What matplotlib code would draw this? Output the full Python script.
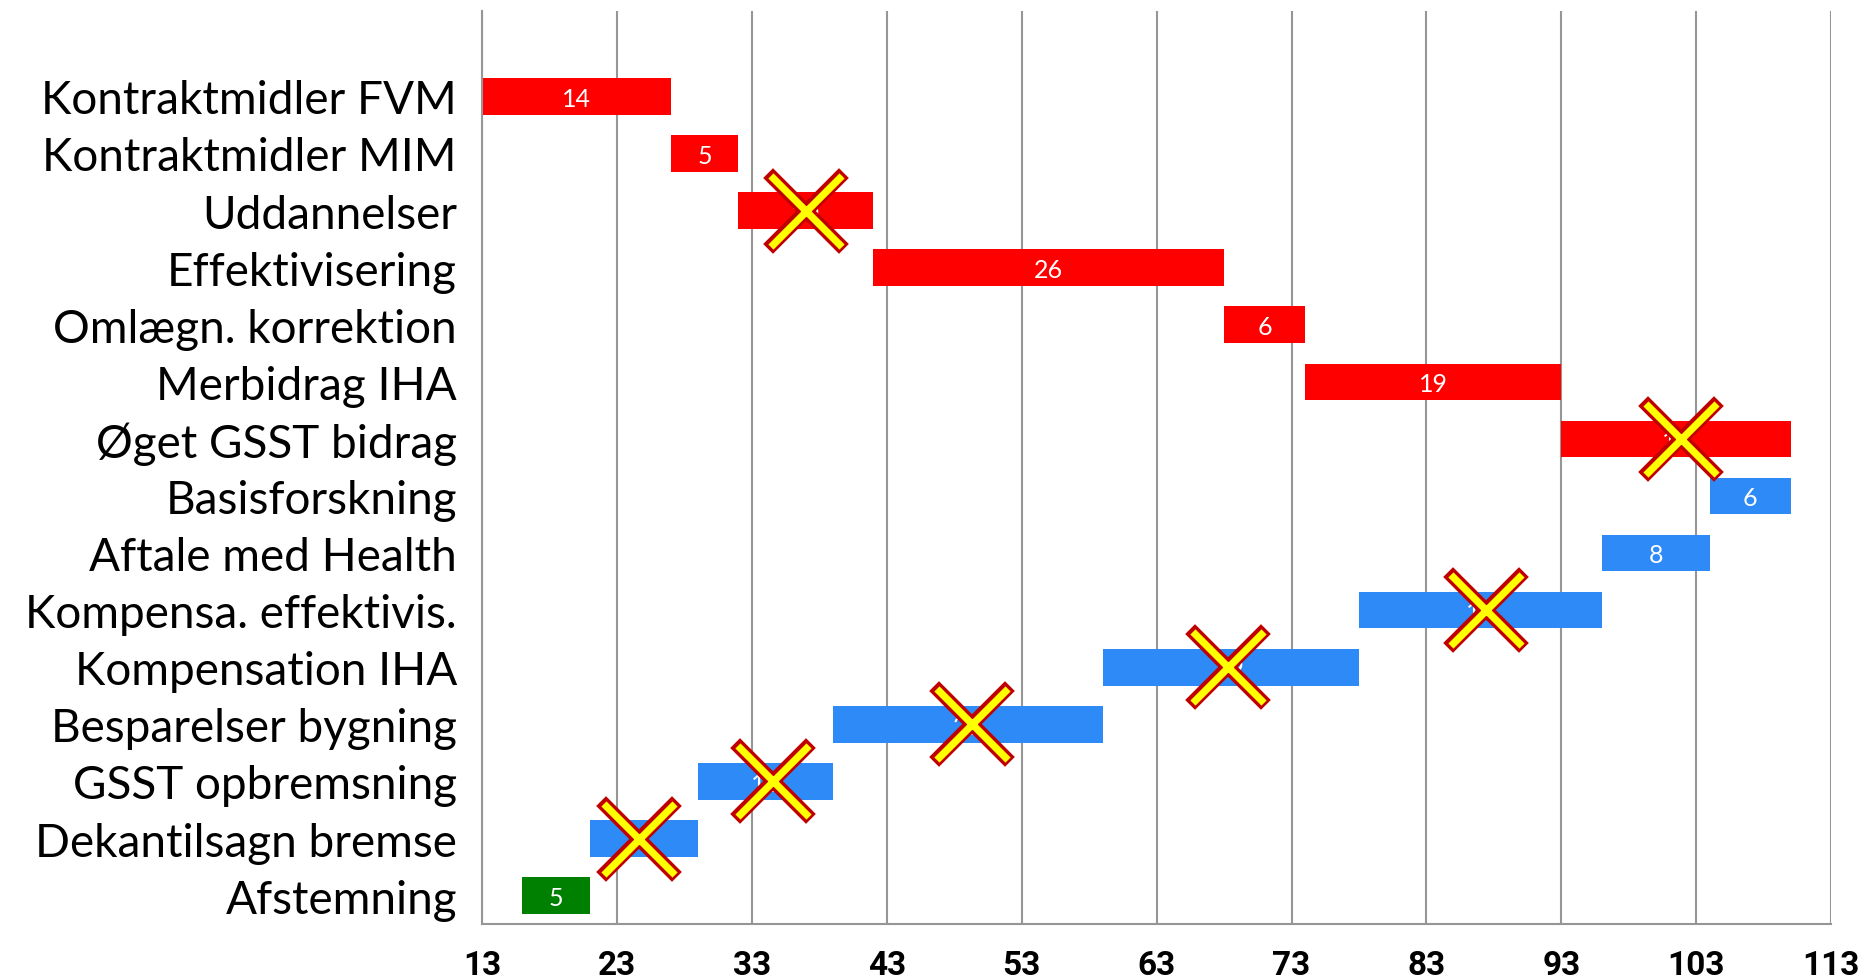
import numpy as np
import matplotlib
matplotlib.use("Agg")
import matplotlib.pyplot as plt
from matplotlib.markers import MarkerStyle

# Data (top to bottom as shown)
categories = ['Kontraktmidler FVM', 'Kontraktmidler MIM', 'Uddannelser', 'Effektivisering',
              'Omlægn. korrektion', 'Merbidrag IHA', 'Øget GSST bidrag', 'Basisforskning',
              'Aftale med Health', 'Kompensa. effektivis.', 'Kompensation IHA',
              'Besparelser bygning', 'GSST opbremsning', 'Dekantilsagn bremse', 'Afstemning']
starts = [13, 27, 32, 42, 68, 74, 93, 104, 96, 78, 59, 39, 29, 21, 16]
values = [14, 5, 10, 26, 6, 19, 17, 6, 8, 18, 19, 20, 10, 8, 5]
groups = ['red'] * 7 + ['blue'] * 7 + ['green']
# x position of the cross drawn over a bar (None = no cross)
cross_x = [None, None, 37, None, None, None, 101.9, None, None, 87.4, 68.3, 49.3, 34.6, 24.6, None]
x_ticks = [13, 23, 33, 43, 53, 63, 73, 83, 93, 103, 113]

palette = {'red': '#FF0000', 'blue': '#2D8AF7', 'green': '#008000'}
label_font = ['Lato', 'DejaVu Sans']

fig = plt.figure(figsize=(18.61, 9.79), dpi=100)
ax = fig.add_axes([0.259, 0.055, 0.725, 0.933])

n = len(categories)
ypos = np.arange(n)[::-1]
colors = [palette[g] for g in groups]

ax.barh(ypos, values, left=starts, height=0.64, color=colors, zorder=2)

# value labels in the bars
for y, s, v in zip(ypos, starts, values):
    ax.text(s + v / 2, y - 0.03, str(v), color='white', ha='center', va='center',
            fontsize=18, family=label_font, zorder=3)

# crossed-out markers
cx = [c for c in cross_x if c is not None]
cy = [y for y, c in zip(ypos, cross_x) if c is not None]
ax.plot(cx, cy, ls='none', marker=MarkerStyle('x', capstyle='projecting'),
        ms=48, mew=10, color='#C00000', zorder=4)
ax.plot(cx, cy, ls='none', marker=MarkerStyle('x', capstyle='projecting'),
        ms=48, mew=5.2, color='#FFFF00', zorder=5)

ax.set_xlim(13, 113)
ax.set_ylim(-0.5, 15.5)
ax.set_xticks(x_ticks)
ax.set_xticklabels([str(t) for t in x_ticks], fontsize=24, fontweight='bold',
                   family=['Roboto', 'DejaVu Sans'])
ax.set_yticks(ypos)
ax.set_yticklabels(categories, fontsize=33, family=label_font)
ax.tick_params(axis='y', length=0, pad=18)
ax.tick_params(axis='x', length=0, pad=18)

ax.grid(axis='x', color='#969696', linewidth=1.5, zorder=0)
ax.set_axisbelow(True)
for side in ['top', 'right']:
    ax.spines[side].set_visible(False)
for side in ['left', 'bottom']:
    ax.spines[side].set_color('#969696')
    ax.spines[side].set_linewidth(1.5)

fig.savefig('out.png', dpi=100)
